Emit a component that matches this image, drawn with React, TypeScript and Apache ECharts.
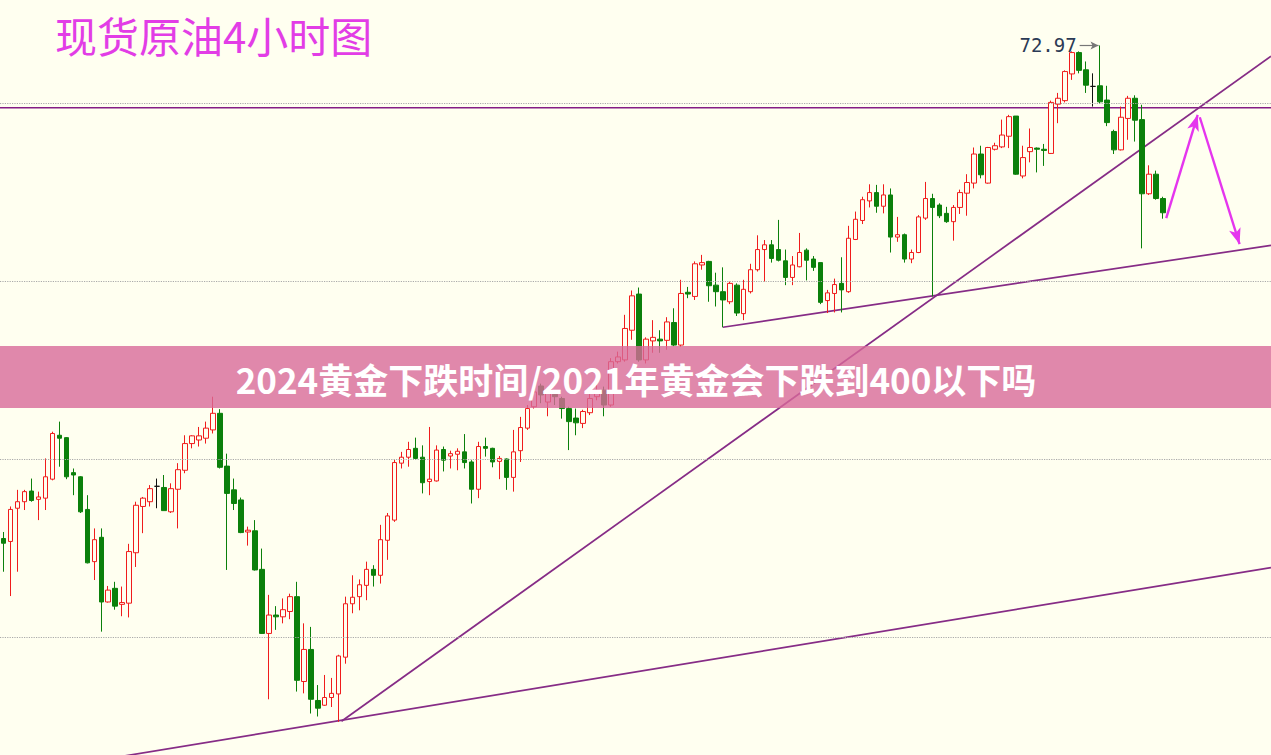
import React, { useEffect, useRef } from 'react';
import * as echarts from 'echarts';

// ---- candle data (4-hour bars, oldest first) ----
const opens = [
  64.66, 64.61, 65.17, 65.28, 65.46, 65.32, 65.34, 65.66, 66.40, 66.36,
  65.77, 65.70, 65.15, 64.27, 64.68, 63.59, 63.82, 63.55, 63.57, 64.42,
  65.20, 65.28, 65.54, 65.52, 65.11, 65.49, 65.81, 66.26, 66.32, 66.35,
  66.49, 66.77, 65.88, 65.48, 65.31, 64.77, 64.79, 64.14, 63.06, 63.37,
  63.34, 63.43, 63.68, 62.25, 62.79, 61.93, 61.85, 61.98, 62.04, 62.66,
  63.56, 63.68, 63.87, 64.14, 64.04, 64.63, 64.97, 65.93, 66.03, 66.18,
  66.03, 65.62, 65.63, 66.16, 66.05, 66.08, 66.12, 65.95, 65.49, 66.21,
  66.18, 65.96, 66.00, 65.69, 66.14, 66.52, 66.88, 67.23, 66.96, 67.09,
  67.02, 66.85, 66.69, 66.60, 66.78, 67.05, 67.16, 66.91, 67.64, 67.67,
  68.17, 68.78, 67.67, 67.99, 68.02, 68.00, 68.30, 67.92, 68.81, 68.74,
  69.27, 69.33, 68.93, 68.82, 68.65, 68.93, 68.45, 68.82, 69.19, 69.53,
  69.61, 69.53, 69.34, 69.06, 69.24, 69.52, 69.37, 69.31, 68.67, 68.79,
  68.96, 68.82, 69.70, 70.02, 70.35, 70.49, 70.26, 70.45, 69.74, 69.78,
  69.37, 69.48, 70.06, 70.39, 70.28, 70.14, 70.00, 70.24, 70.48, 70.65,
  71.14, 70.65, 71.22, 71.26, 71.44, 71.78, 70.77, 71.18, 71.24, 71.22,
  71.15, 71.98, 72.04, 72.49, 72.85, 72.56, 72.28, 72.29, 72.05, 71.52,
  71.21, 71.74, 72.08, 71.72, 70.47, 70.80, 70.39,
];
const closes = [
  64.58, 65.15, 65.28, 65.45, 65.30, 65.36, 65.70, 66.43, 66.35, 65.70,
  65.73, 65.11, 64.25, 64.64, 63.59, 63.79, 63.52, 63.58, 64.44, 65.22,
  65.34, 65.50, 65.54, 65.13, 65.50, 65.82, 66.26, 66.39, 66.39, 66.52,
  66.77, 65.86, 65.42, 65.25, 64.76, 64.80, 64.13, 63.06, 63.37, 63.34,
  63.46, 63.68, 62.27, 62.79, 61.95, 61.80, 61.98, 62.05, 62.68, 63.56,
  63.67, 63.88, 64.14, 64.04, 64.64, 65.04, 65.94, 66.03, 66.16, 66.01,
  65.60, 65.66, 66.15, 65.98, 66.09, 66.13, 65.94, 65.49, 66.21, 66.18,
  65.95, 66.01, 65.69, 66.12, 66.53, 66.85, 67.13, 67.08, 67.12, 67.05,
  66.85, 66.63, 66.61, 66.80, 67.02, 67.16, 66.91, 67.64, 67.72, 68.20,
  68.75, 67.67, 68.02, 68.05, 67.99, 68.31, 67.92, 68.79, 68.78, 69.29,
  69.31, 68.92, 68.82, 68.68, 68.96, 68.46, 68.86, 69.19, 69.53, 69.61,
  69.38, 69.35, 69.06, 69.27, 69.48, 69.35, 69.23, 68.64, 68.80, 68.94,
  68.85, 69.72, 70.04, 70.37, 70.49, 70.26, 70.45, 69.74, 69.78, 69.37,
  69.48, 70.08, 70.39, 70.24, 70.10, 70.00, 70.24, 70.49, 70.66, 71.14,
  70.79, 71.25, 71.28, 71.46, 71.77, 70.80, 71.08, 71.25, 71.22, 71.20,
  72.01, 72.08, 72.53, 72.85, 72.55, 72.30, 72.28, 72.02, 71.67, 71.21,
  71.76, 72.08, 71.71, 70.47, 70.80, 70.39, 70.15,
];
const lows = [
  64.10, 63.69, 64.10, 65.14, 65.28, 64.97, 65.14, 65.64, 65.87, 65.66,
  65.39, 65.09, 64.24, 63.96, 63.09, 63.58, 63.46, 63.35, 63.33, 64.18,
  64.75, 65.20, 65.17, 65.13, 65.09, 64.83, 65.76, 66.18, 66.21, 66.26,
  66.43, 65.84, 64.13, 65.14, 64.75, 64.54, 64.12, 63.05, 61.95, 63.12,
  63.23, 63.30, 62.08, 62.05, 61.71, 61.66, 61.84, 61.82, 61.57, 62.55,
  63.40, 63.45, 63.62, 63.85, 63.90, 64.30, 64.94, 65.84, 65.87, 65.99,
  65.42, 65.39, 65.62, 65.79, 65.84, 65.81, 65.84, 65.25, 65.34, 66.04,
  65.86, 65.66, 65.48, 65.45, 65.95, 66.49, 66.85, 66.94, 66.72, 66.91,
  66.68, 66.15, 66.40, 66.52, 66.74, 66.99, 66.72, 66.88, 67.61, 67.64,
  68.01, 67.64, 67.61, 67.79, 67.79, 67.84, 67.90, 67.89, 68.71, 68.68,
  69.19, 68.65, 68.57, 68.22, 68.61, 68.41, 68.34, 68.79, 69.16, 68.99,
  69.31, 69.33, 68.93, 68.93, 69.23, 69.01, 69.17, 68.61, 68.46, 68.47,
  68.47, 68.80, 69.69, 69.96, 70.24, 70.15, 70.14, 69.48, 69.66, 69.31,
  69.30, 69.47, 70.03, 68.74, 70.06, 69.98, 69.68, 70.13, 70.10, 70.56,
  70.73, 70.64, 71.20, 71.24, 71.24, 70.79, 70.73, 71.00, 70.83, 70.94,
  71.14, 71.66, 72.01, 72.39, 72.50, 72.17, 71.94, 71.99, 71.61, 71.14,
  71.20, 71.38, 71.35, 69.55, 70.45, 70.37, 70.05,
];
const highs = [
  64.77, 65.20, 65.48, 65.48, 65.67, 65.45, 66.01, 66.46, 66.63, 66.37,
  65.84, 65.71, 65.39, 64.83, 64.83, 63.86, 63.93, 63.85, 64.57, 65.28,
  65.36, 65.56, 65.67, 65.73, 65.59, 65.93, 66.40, 66.40, 66.54, 66.63,
  67.05, 66.84, 66.09, 65.67, 65.35, 64.86, 64.97, 64.49, 63.71, 63.52,
  63.65, 63.73, 63.93, 63.23, 63.17, 62.19, 62.36, 62.31, 62.70, 63.68,
  64.04, 63.97, 64.27, 64.21, 64.89, 65.09, 65.99, 66.12, 66.29, 66.36,
  66.23, 66.54, 66.23, 66.21, 66.14, 66.18, 66.42, 65.98, 66.29, 66.36,
  66.19, 66.05, 66.01, 66.49, 66.71, 66.91, 67.22, 67.27, 67.16, 67.16,
  67.05, 66.88, 66.85, 66.83, 67.11, 67.25, 67.22, 67.70, 67.81, 68.43,
  68.84, 68.89, 68.05, 68.34, 68.17, 68.39, 68.54, 69.02, 68.90, 69.33,
  69.44, 69.34, 69.14, 69.23, 68.99, 68.96, 69.02, 69.29, 69.77, 69.69,
  69.69, 70.03, 69.53, 69.42, 69.81, 69.55, 69.42, 69.31, 68.85, 69.04,
  69.40, 69.93, 70.17, 70.42, 70.63, 70.62, 70.63, 70.56, 70.08, 69.80,
  69.53, 70.11, 70.67, 70.47, 70.31, 70.25, 70.28, 70.54, 70.80, 71.25,
  71.28, 71.26, 71.33, 71.72, 71.80, 71.78, 71.28, 71.57, 71.25, 71.31,
  72.04, 72.17, 72.55, 72.87, 72.87, 72.70, 72.50, 72.97, 72.29, 71.55,
  71.94, 72.12, 72.13, 71.97, 70.95, 70.86, 70.42,
];

// ---- axis / annotation values ----
const slotCount = 182;
const priceMin = 61.011;
const priceMax = 73.736;
const gridLevels = [72, 69, 66, 63];
const resistanceLevel = 71.92;
const steepTrend = [[48.4, 61.58], [181.5, 72.79]];
const lowerTrend = [[0, 60.66], [181.5, 64.17]];
const midTrend = [[103, 68.22], [181.5, 69.6]];
const upArrow = [[166.5, 70.06], [171.0, 71.8]];
const downArrow = [[171.3, 71.76], [177.0, 69.62]];
const peakValue = 72.97;
const peakArrow = [[154.1, peakValue], [156.8, peakValue]];
const titleText = '现货原油4小时图';
const bannerText = '2024黄金下跌时间/2021年黄金会下跌到400以下吗';

const BG = '#fffff0';
const UP = '#f01c1c';
const DOWN = '#0b800b';
const TREND = '#862c86';
const MAGENTA = '#e535ee';

export default function App() {
  const ref = useRef<HTMLDivElement>(null);

  useEffect(() => {
    if (!ref.current) return;
    const chart = echarts.init(ref.current, undefined, { renderer: 'svg' });
    const slots = Array.from({ length: slotCount }, (_, i) => String(i + 1));
    const candles = opens.map((o, i) => [o, closes[i], lows[i], highs[i]]);

    const trendSeries = (name: string, data: number[][], color: string, width: number, extra: any = {}) => ({
      name,
      type: 'line',
      xAxisIndex: 1,
      yAxisIndex: 0,
      data,
      symbol: 'none',
      showSymbol: false,
      silent: true,
      clip: true,
      lineStyle: { color, width },
      z: 3,
      ...extra,
    });

    const option: any = {
      animation: false,
      backgroundColor: BG,
      grid: { left: -0.8, top: 0, width: 1274, height: 755, containLabel: false },
      xAxis: [
        { type: 'category', data: slots, boundaryGap: true, show: false },
        { type: 'value', min: -0.5, max: slotCount - 0.5, show: false },
      ],
      yAxis: {
        type: 'value',
        min: priceMin,
        max: priceMax,
        show: false,
        splitLine: { show: false },
      },
      series: [
        trendSeries('resistance', [[-0.5, resistanceLevel], [slotCount - 0.5, resistanceLevel]], '#841c84', 1.6, {
          z: 2,
          markLine: {
            silent: true,
            symbol: 'none',
            label: { show: false },
            lineStyle: { color: '#aaaaaa', type: 'dotted', width: 1.2 },
            emphasis: { disabled: true },
            data: gridLevels.map((v) => ({ yAxis: v })),
          },
        }),
        trendSeries('steep', steepTrend, TREND, 1.7, {
          markLine: {
            silent: true,
            label: { show: false },
            emphasis: { disabled: true },
            lineStyle: { color: MAGENTA, width: 2.4, type: 'solid' },
            data: [
              [
                { coord: upArrow[0], symbol: 'none' },
                { coord: upArrow[1], symbol: 'arrow', symbolSize: [9, 16] },
              ],
              [
                { coord: downArrow[0], symbol: 'none' },
                { coord: downArrow[1], symbol: 'arrow', symbolSize: [9, 16] },
              ],
            ],
          },
        }),
        trendSeries('lower', lowerTrend, TREND, 1.7),
        trendSeries('mid', midTrend, TREND, 1.7, {
          markLine: {
            silent: true,
            emphasis: { disabled: true },
            lineStyle: { color: '#777777', width: 1.2, type: 'solid' },
            data: [
              [
                {
                  coord: peakArrow[0],
                  symbol: 'none',
                  label: {
                    show: true,
                    position: 'start',
                    formatter: String(peakValue),
                    color: '#2b3a55',
                    fontSize: 19,
                    fontFamily: 'DejaVu Sans Mono',
                    distance: 3,
                  },
                },
                { coord: peakArrow[1], symbol: 'arrow', symbolSize: [6, 8] },
              ],
            ],
          },
        }),
        {
          name: 'price',
          type: 'candlestick',
          xAxisIndex: 0,
          yAxisIndex: 0,
          data: candles,
          barWidth: 5,
          silent: true,
          z: 4,
          itemStyle: {
            color: BG,
            color0: DOWN,
            borderColor: UP,
            borderColor0: DOWN,
            borderColorDoji: '#111111',
            borderWidth: 1,
          },
        },
      ],
      graphic: [
        {
          type: 'text',
          x: 55,
          y: 34,
          z: 100,
          style: {
            text: titleText,
            fill: '#e23de6',
            fontSize: 42,
            fontFamily: 'Noto Sans CJK SC',
            align: 'left',
            verticalAlign: 'middle',
          },
        },
        {
          type: 'rect',
          z: 100,
          shape: { x: 0, y: 346, width: 1271, height: 62 },
          style: { fill: 'rgba(216,106,154,0.8)' },
        },
        {
          type: 'text',
          x: 636,
          y: 378,
          z: 101,
          style: {
            text: bannerText,
            fill: '#ffffff',
            fontSize: 35,
            fontWeight: 'bold',
            fontFamily: 'Noto Sans CJK SC',
            align: 'center',
            verticalAlign: 'middle',
          },
        },
      ],
    };

    chart.setOption(option);
    return () => chart.dispose();
  }, []);

  return (
    <div
      ref={ref}
      style={{ position: 'fixed', left: 0, top: 0, width: 1271, height: 755 }}
    />
  );
}
